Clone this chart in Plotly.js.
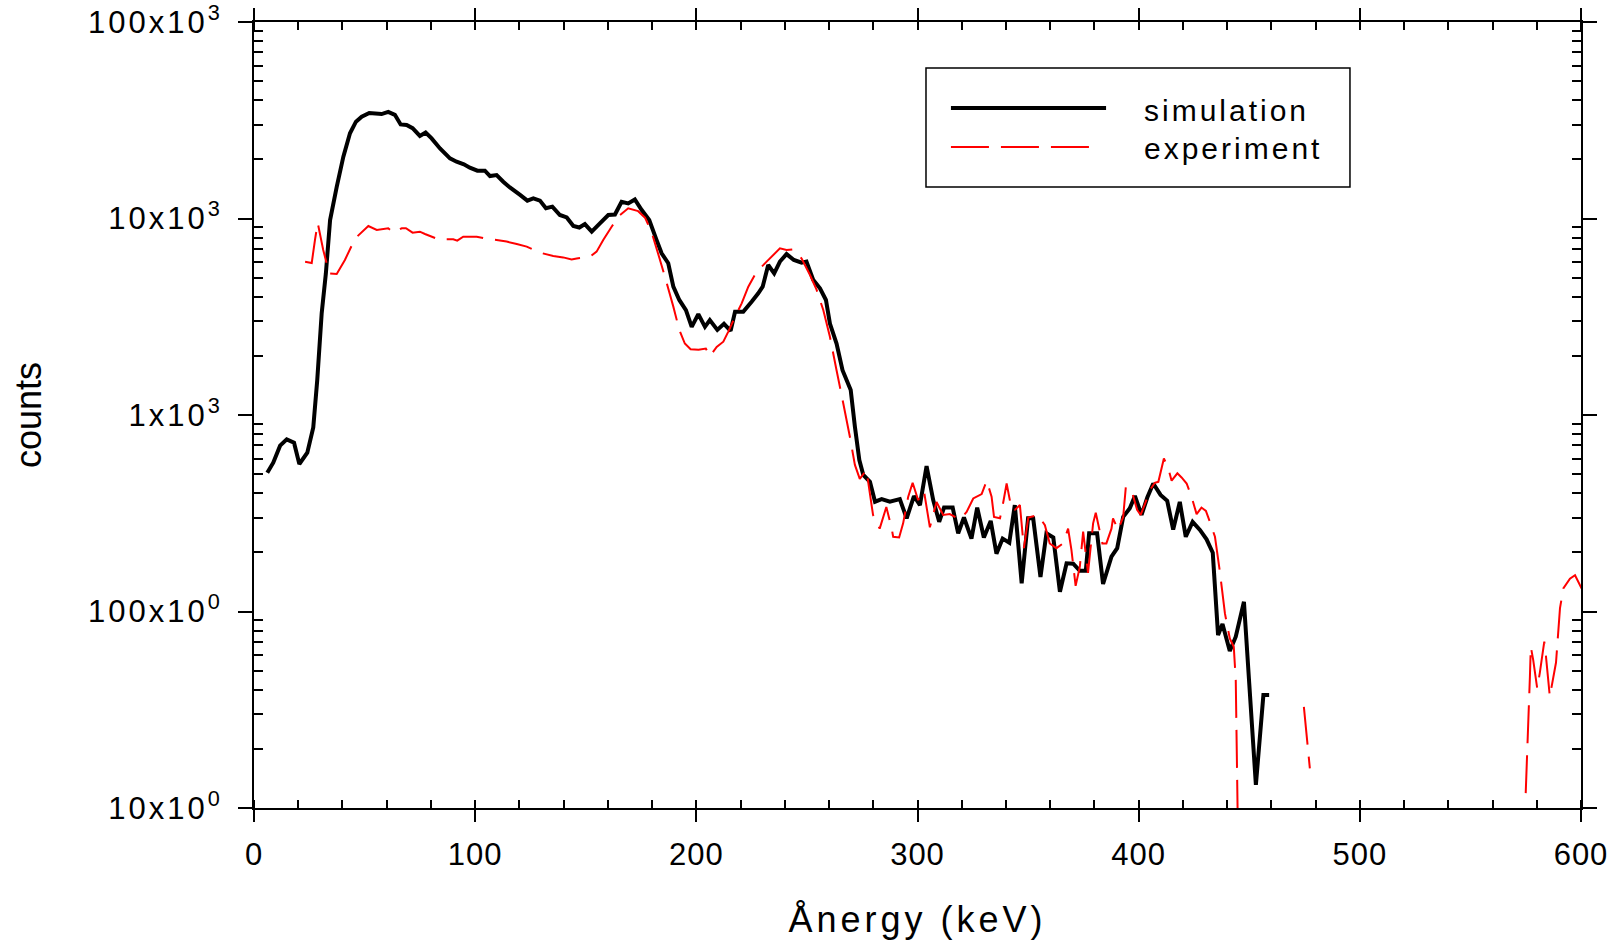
<!DOCTYPE html>
<html>
<head>
<meta charset="utf-8">
<script src="https://cdn.plot.ly/plotly-3.0.1.min.js"></script>
<style>
  html, body { margin: 0; padding: 0; background: #fff; }
  #chart { width: 1619px; height: 944px; }
  .xtitle { letter-spacing: 4px; }
  .annotation-text { letter-spacing: 3px; }
  .ytick text { letter-spacing: 3px; }
  .xtick text { letter-spacing: 1px; }
</style>
</head>
<body>
<div id="chart"></div>
<script>
// ---- data ----
const energySim = [6.0, 8.7, 11.8, 14.8, 18.1, 20.5, 24.1, 26.8, 28.6, 30.6, 32.5, 34.4, 37.4, 40.4, 43.4, 46.1, 48.7, 52.1, 57.7, 60.7, 63.7, 66.3, 69.0, 71.7, 75.0, 77.6, 80.3, 84.1, 88.6, 91.6, 94.9, 97.6, 101.0, 104.4, 106.7, 109.7, 112.7, 115.7, 120.3, 123.6, 126.3, 129.3, 132.0, 134.9, 138.3, 141.4, 144.4, 147.1, 149.6, 152.7, 156.4, 160.2, 163.2, 166.2, 169.2, 172.2, 175.3, 178.7, 182.0, 184.3, 187.3, 189.6, 192.3, 195.3, 197.9, 200.9, 203.9, 206.1, 209.5, 212.5, 215.5, 217.5, 221.2, 225.0, 228.0, 230.0, 232.5, 235.2, 237.8, 240.8, 244.1, 247.6, 249.8, 252.9, 255.9, 258.6, 260.4, 263.4, 266.1, 269.8, 271.7, 273.7, 275.5, 278.5, 280.8, 283.8, 287.5, 292.0, 295.1, 298.4, 301.1, 304.1, 307.1, 309.8, 312.0, 315.9, 318.4, 321.0, 324.4, 327.0, 330.0, 333.1, 335.7, 338.5, 341.5, 344.0, 347.1, 350.0, 352.3, 355.6, 358.3, 361.4, 364.4, 367.4, 370.4, 373.4, 376.1, 377.6, 381.2, 383.9, 387.7, 390.3, 393.0, 396.0, 398.3, 401.3, 403.9, 406.6, 409.9, 412.9, 415.6, 418.6, 421.3, 424.4, 427.7, 430.7, 433.5, 435.9, 437.9, 441.2, 443.9, 447.6, 450.0, 453.0, 456.4, 459.0];
const countsSim = [508, 572, 698, 752, 723, 563, 643, 865, 1507, 3290, 5260, 9820, 14500, 20650, 27150, 31100, 32950, 34450, 34000, 34900, 33700, 30100, 29900, 28800, 26300, 27400, 25550, 22730, 20230, 19460, 18870, 18140, 17510, 17510, 16440, 16640, 15380, 14390, 13180, 12330, 12650, 12330, 11270, 11490, 10420, 10120, 9160, 9000, 9370, 8570, 9440, 10420, 10480, 12170, 11940, 12500, 11040, 9820, 7780, 6650, 5920, 4500, 3850, 3420, 2810, 3260, 2810, 3040, 2710, 2910, 2680, 3350, 3350, 3770, 4160, 4500, 5800, 5260, 6040, 6590, 6150, 5960, 6040, 4860, 4410, 3850, 2920, 2310, 1690, 1340, 871, 590, 495, 457, 362, 373, 362, 373, 298, 387, 348, 550, 369, 286, 338, 338, 250, 301, 235, 338, 238, 289, 197, 235, 224, 348, 139, 298, 298, 150, 250, 238, 126, 176, 175, 161, 161, 250, 250, 138, 190, 210, 303, 335, 387, 310, 380, 448, 392, 366, 261, 361, 240, 286, 260, 233, 199, 75.9, 86.3, 63, 74.4, 112, 43, 13.1, 37.6, 37.6];

const energyExp = [23.1, 26.1, 27.6, 28.8, 31.3, 34.0, 37.4, 41.1, 45.7, 51.7, 55.5, 60.7, 63.0, 66.8, 68.7, 71.7, 75.0, 77.3, 84.1, 87.1, 90.1, 91.9, 94.6, 100.7, 106.7, 109.7, 114.2, 118.8, 123.3, 129.3, 135.3, 139.8, 143.6, 145.9, 151.9, 154.9, 157.9, 161.7, 165.5, 169.2, 173.7, 176.8, 179.8, 183.3, 185.8, 189.6, 192.3, 194.8, 197.4, 201.0, 204.3, 206.1, 209.2, 212.2, 214.4, 217.5, 220.5, 223.5, 227.3, 231.8, 237.8, 240.8, 243.8, 247.6, 251.4, 254.4, 257.4, 260.4, 263.4, 266.4, 269.4, 271.7, 273.9, 276.9, 279.9, 282.9, 285.9, 288.2, 289.0, 291.7, 293.5, 295.8, 297.8, 300.3, 302.9, 305.6, 308.6, 311.6, 314.6, 319.2, 322.2, 325.2, 329.0, 331.3, 333.5, 334.6, 337.3, 338.8, 340.3, 342.6, 344.0, 346.3, 348.1, 350.1, 354.5, 357.6, 359.8, 362.8, 365.8, 368.1, 369.6, 371.5, 373.4, 374.9, 377.1, 379.4, 380.6, 383.6, 385.4, 387.7, 388.4, 390.7, 393.0, 394.2, 396.8, 399.3, 400.9, 402.8, 405.1, 407.3, 408.9, 411.4, 413.4, 414.9, 417.5, 419.4, 421.7, 423.9, 426.2, 428.4, 430.4, 432.2, 434.5, 436.7, 439.0, 441.2, 443.0, 443.9, 445.6, 460.0, 474.7, 477.4, 520.0, 575.0, 576.9, 577.3, 578.4, 580.2, 581.4, 582.2, 583.4, 584.1, 585.9, 588.7, 590.5, 592.0, 595.0, 597.3, 600.3];
const countsExp = [6030, 5940, 7820, 9500, 6920, 5260, 5220, 6150, 7910, 9160, 8740, 8920, 8470, 8920, 8920, 8470, 8570, 8340, 7780, 7840, 7840, 7710, 8080, 8080, 7840, 7780, 7630, 7420, 7190, 6700, 6440, 6340, 6190, 6260, 6390, 6780, 7780, 9080, 10420, 11270, 10900, 10100, 8500, 6300, 5060, 3560, 2710, 2310, 2160, 2150, 2180, 1990, 2220, 2360, 2650, 3160, 3700, 4500, 5360, 6030, 7050, 6910, 6970, 6260, 5160, 4330, 3420, 2500, 1690, 1150, 777, 557, 473, 525, 310, 264, 340, 269, 240, 238, 281, 384, 452, 369, 412, 268, 361, 310, 313, 294, 321, 376, 396, 463, 384, 303, 298, 361, 448, 329, 329, 348, 210, 301, 310, 275, 222, 210, 222, 264, 206, 135, 169, 255, 157, 281, 318, 222, 222, 264, 298, 260, 303, 431, 412, 329, 310, 352, 415, 452, 457, 601, 535, 463, 505, 481, 448, 384, 313, 338, 325, 286, 240, 160, 97.8, 73, 66.2, 44.8, 2, null, 32.7, 15.9, null, 11.9, 46.6, 66.2, 56.6, 40.6, 48.9, 56.6, 70.2, 60.1, 36.9, 55, 104, 131, 147, 153, 131];

const xTickVals = [0, 100, 200, 300, 400, 500, 600];
const yTickVals = [10, 100, 1000, 10000, 100000];
const yTickText = ['10x10<sup>0</sup>', '100x10<sup>0</sup>', '1x10<sup>3</sup>', '10x10<sup>3</sup>', '100x10<sup>3</sup>'];
const seriesNames = ['simulation', 'experiment'];

// minor log ticks 2..9 within each decade
const yMinorVals = [];
for (let d = 10; d < 100000; d *= 10) { for (let m = 2; m <= 9; m++) yMinorVals.push(d * m); }

const FONT = 'Liberation Sans, Arial, Helvetica, sans-serif';

const traces = [
  { x: energySim, y: countsSim, name: seriesNames[0], type: 'scatter', mode: 'lines',
    line: { color: '#000000', width: 4, simplify: false }, connectgaps: false },
  { x: energyExp, y: countsExp, name: seriesNames[1], type: 'scatter', mode: 'lines',
    line: { color: '#ff0000', width: 2, dash: '38px,12px', simplify: false }, connectgaps: false }
];

const axisCommon = {
  showline: true, linecolor: '#000', linewidth: 2, mirror: 'allticks',
  ticks: 'outside', tickcolor: '#000', tickwidth: 2,
  showgrid: false, zeroline: false, ticklabeloverflow: 'allow',
  tickfont: { family: FONT, size: 31, color: '#000' }
};

// legend box in plot-fraction coordinates
const lg = { x0: 0.5064, x1: 0.8259, y0: 0.7901, y1: 0.9415, lineX0: 0.5252, simX1: 0.6421, expX1: 0.6315,
             textX: 0.6692, row1: 0.8906, row2: 0.8410, textRow1: 0.8880, textRow2: 0.8385 };

const layout = {
  width: 1619, height: 944,
  margin: { l: 254, r: 38, t: 22, b: 136, pad: 0 },
  paper_bgcolor: '#fff', plot_bgcolor: '#fff',
  font: { family: FONT, color: '#000' },
  showlegend: false,
  xaxis: Object.assign({}, axisCommon, {
    range: [0, 600], tickmode: 'array', tickvals: xTickVals, ticklen: 12,
    minor: { dtick: 20, ticks: 'inside', ticklen: 8, tickwidth: 2, tickcolor: '#000', showgrid: false },
    title: { text: 'Ånergy (keV)', font: { family: FONT, size: 36, color: '#000' }, standoff: 36 },
    ticklabelstandoff: 6
  }),
  yaxis: Object.assign({}, axisCommon, {
    type: 'log', range: [0.99999, 5.00001], tickmode: 'array', tickvals: yTickVals, ticktext: yTickText, ticklen: 14,
    minor: { tickmode: 'array', tickvals: yMinorVals, ticks: 'inside', ticklen: 9, tickwidth: 2, tickcolor: '#000', showgrid: false },
    title: { text: 'counts', font: { family: FONT, size: 36, color: '#000' }, standoff: 35 },
    ticklabelstandoff: 9
  }),
  shapes: [
    { type: 'rect', xref: 'paper', yref: 'paper', x0: lg.x0, x1: lg.x1, y0: lg.y0, y1: lg.y1,
      line: { color: '#000', width: 1.5 }, fillcolor: '#fff', layer: 'above' },
    { type: 'line', xref: 'paper', yref: 'paper', x0: lg.lineX0, x1: lg.simX1, y0: lg.row1, y1: lg.row1,
      line: { color: '#000', width: 4 }, layer: 'above' },
    { type: 'line', xref: 'paper', yref: 'paper', x0: lg.lineX0, x1: lg.expX1, y0: lg.row2, y1: lg.row2,
      line: { color: '#ff0000', width: 2, dash: '38px,12px' }, layer: 'above' }
  ],
  annotations: [
    { xref: 'paper', yref: 'paper', x: lg.textX, y: lg.textRow1, xanchor: 'left', yanchor: 'middle',
      text: seriesNames[0], showarrow: false, font: { family: FONT, size: 30, color: '#000' } },
    { xref: 'paper', yref: 'paper', x: lg.textX, y: lg.textRow2, xanchor: 'left', yanchor: 'middle',
      text: seriesNames[1], showarrow: false, font: { family: FONT, size: 30, color: '#000' } }
  ]
};

Plotly.newPlot('chart', traces, layout, { displayModeBar: false, staticPlot: true });
</script>
</body>
</html>
